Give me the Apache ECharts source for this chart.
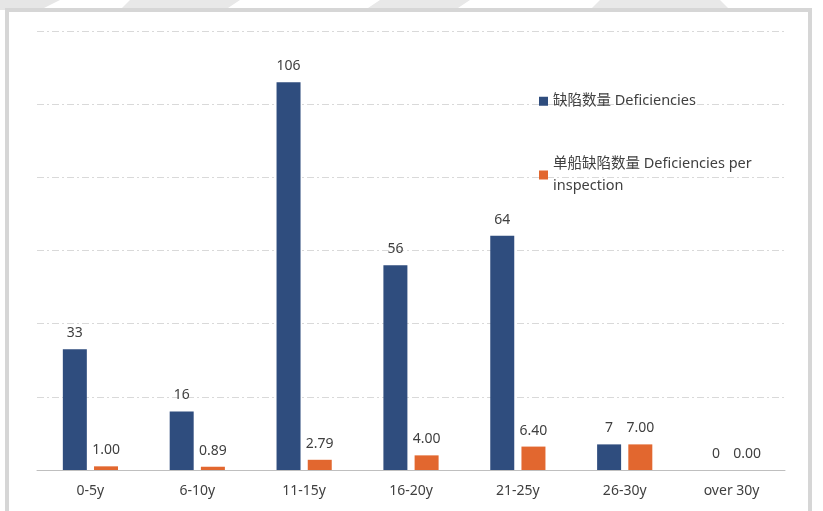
<!DOCTYPE html>
<html>
<head>
<meta charset="utf-8">
<script src="https://cdn.jsdelivr.net/npm/echarts@6/dist/echarts.min.js"></script>
<style>
  html, body { margin: 0; padding: 0; background: #fff; }
  #chart { width: 823px; height: 511px; }
</style>
</head>
<body>
<div id="chart"></div>
<script>
const categories = ['0-5y', '6-10y', '11-15y', '16-20y', '21-25y', '26-30y', 'over 30y'];
const deficiencies = [33, 16, 106, 56, 64, 7, 0];
const perInspection = [1.00, 0.89, 2.79, 4.00, 6.40, 7.00, 0.00];
const seriesNames = ['缺陷数量 Deficiencies', '单船缺陷数量 Deficiencies per inspection'];
const colors = ['#2F4D7E', '#E2672F'];

const chart = echarts.init(document.getElementById('chart'));
const font = '"Noto Sans", "Noto Sans CJK SC", sans-serif';

chart.setOption({
  animation: false,
  color: colors,
  graphic: [
    // faint watermark at top
    { type: 'polygon', silent: true, shape: { points: [[0, 0], [60, 0], [40, 10], [0, 10]] }, style: { fill: '#e6e6e6' } },
    { type: 'polygon', silent: true, shape: { points: [[130, 0], [240, 0], [225, 10], [120, 10]] }, style: { fill: '#e8e8e8' } },
    { type: 'polygon', silent: true, shape: { points: [[380, 0], [470, 0], [455, 10], [365, 10]] }, style: { fill: '#e8e8e8' } },
    { type: 'polygon', silent: true, shape: { points: [[600, 0], [720, 0], [730, 10], [590, 10]] }, style: { fill: '#e8e8e8' } },
    { type: 'rect', silent: true, shape: { x: 7, y: 10, width: 803, height: 520 },
      style: { fill: 'none', stroke: '#d6d6d6', lineWidth: 4 } }
  ],
  legend: [
    {
      data: [seriesNames[0]],
      left: 534, top: 89, orient: 'vertical',
      itemWidth: 9, itemHeight: 9,
      icon: 'rect',
      textStyle: { fontFamily: font, fontSize: 14.5, color: '#404040' }
    },
    {
      data: [seriesNames[1]],
      left: 534, top: 148, orient: 'vertical',
      itemWidth: 9, itemHeight: 9,
      icon: 'rect',
      textStyle: { fontFamily: font, fontSize: 14.5, color: '#404040',
        width: 215, overflow: 'break', lineHeight: 22 }
    }
  ],
  grid: { left: 37, right: 38, top: 31, bottom: 41 },
  xAxis: {
    type: 'category',
    data: categories,
    axisTick: { show: false },
    axisLine: { lineStyle: { color: '#bfbfbf', width: 1 } },
    axisLabel: { fontFamily: font, fontSize: 14, color: '#404040', margin: 14 }
  },
  yAxis: {
    type: 'value',
    min: 0, max: 120, interval: 20,
    axisLabel: { show: false },
    axisLine: { show: false },
    axisTick: { show: false },
    splitLine: { lineStyle: { color: '#d9d9d9', type: [7, 3, 2, 3], width: 1 } }
  },
  series: [
    {
      name: seriesNames[0],
      type: 'bar',
      data: deficiencies,
      barWidth: 24,
      barGap: '30%',
      label: { show: true, position: 'top', distance: 9, fontFamily: font, fontSize: 14, color: '#404040' }
    },
    {
      name: seriesNames[1],
      type: 'bar',
      data: perInspection,
      barWidth: 24,
      label: { show: true, position: 'top', distance: 9, fontFamily: font, fontSize: 14, color: '#404040',
        formatter: p => p.value.toFixed(2) }
    }
  ]
});
</script>
</body>
</html>
